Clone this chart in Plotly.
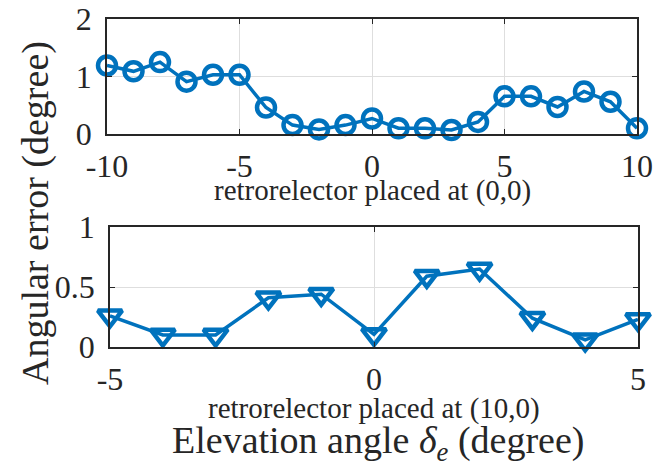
import plotly.graph_objects as go

# Angular error vs elevation angle, retroreflector at (0,0)
elev_top = [-10, -9, -8, -7, -6, -5, -4, -3, -2, -1, 0, 1, 2, 3, 4, 5, 6, 7, 8, 9, 10]
err_top = [1.19, 1.09, 1.25, 0.91, 1.03, 1.03, 0.46, 0.155, 0.08, 0.155, 0.27,
           0.10, 0.10, 0.07, 0.21, 0.655, 0.655, 0.47, 0.74, 0.56, 0.10]

# Angular error vs elevation angle, retroreflector at (10,0)
elev_bot = [-5, -4, -3, -2, -1, 0, 1, 2, 3, 4, 5]
err_bot = [0.26, 0.10, 0.10, 0.41, 0.44, 0.105, 0.59, 0.65, 0.24, 0.06, 0.23]

# Tick values / labels
top_xticks = [-10, -5, 0, 5, 10]
top_xlabels = ["-10", "-5", "0", "5", "10"]
top_yticks = [0, 1, 2]
top_ylabels = ["0", "1", "2"]
bot_xticks = [-5, 0, 5]
bot_xlabels = ["-5", "0", "5"]
bot_yticks = [0, 0.5, 1]
bot_ylabels = ["0", "0.5", "1"]

BLUE = "#0072BD"
AX = "#262626"
GRID = "#dedede"
FONT = "Liberation Serif"
W, H = 655, 471


def px_x(p):
    return p / W


def px_y(p):
    return 1 - p / H


fig = go.Figure()

fig.add_trace(go.Scatter(
    x=elev_top, y=err_top, mode="lines+markers", xaxis="x", yaxis="y",
    line=dict(color=BLUE, width=3.5),
    marker=dict(symbol="circle-open", size=18, color=BLUE,
                line=dict(width=4.5, color=BLUE)),
    cliponaxis=False, showlegend=False,
))
fig.add_trace(go.Scatter(
    x=elev_bot, y=err_bot, mode="lines+markers", xaxis="x2", yaxis="y2",
    line=dict(color=BLUE, width=3.5),
    marker=dict(symbol="triangle-down-open", size=21, color=BLUE,
                line=dict(width=4.5, color=BLUE)),
    cliponaxis=False, showlegend=False,
))

common = dict(
    showline=True, linecolor=AX, linewidth=1.5, mirror="ticks",
    ticks="inside", ticklen=5, tickwidth=1.2, tickcolor=AX,
    showgrid=True, gridcolor=GRID, gridwidth=1,
    zeroline=False, tickmode="array", automargin=False,
    tickfont=dict(family=FONT, size=32, color=AX),
)
xcommon = dict(common, ticklabelstandoff=3)
ycommon = dict(common, ticklabelstandoff=7)

fig.update_layout(
    width=W, height=H,
    margin=dict(l=0, r=0, t=0, b=0, autoexpand=False),
    paper_bgcolor="white", plot_bgcolor="white",
    xaxis=dict(xcommon, domain=[px_x(107), px_x(637)], range=[-10, 10],
               tickvals=top_xticks, ticktext=top_xlabels, anchor="y"),
    yaxis=dict(ycommon, domain=[px_y(134), px_y(19)], range=[0, 2],
               tickvals=top_yticks, ticktext=top_ylabels, anchor="x"),
    xaxis2=dict(xcommon, domain=[px_x(110), px_x(638)], range=[-5, 5],
                tickvals=bot_xticks, ticktext=bot_xlabels, anchor="y2"),
    yaxis2=dict(ycommon, domain=[px_y(347), px_y(227)], range=[0, 1],
                tickvals=bot_yticks, ticktext=bot_ylabels, anchor="x2"),
)

annos = [
    dict(text="retrorelector placed at (0,0)", x=px_x(372), y=px_y(190),
         font=dict(family=FONT, size=29, color=AX)),
    dict(text="retrorelector placed at (10,0)", x=px_x(374), y=px_y(408),
         font=dict(family=FONT, size=29, color=AX)),
    dict(text="Elevation angle <i>δ</i><sub><i>e</i></sub> (degree)",
         x=px_x(378), y=px_y(443), font=dict(family=FONT, size=38, color=AX)),
    dict(text="Angular error (degree)", x=px_x(35), y=px_y(213), textangle=-90,
         font=dict(family=FONT, size=38, color=AX)),
]
for a in annos:
    fig.add_annotation(xref="paper", yref="paper", showarrow=False,
                       xanchor="center", yanchor="middle", **a)

fig.write_html("out.html")
